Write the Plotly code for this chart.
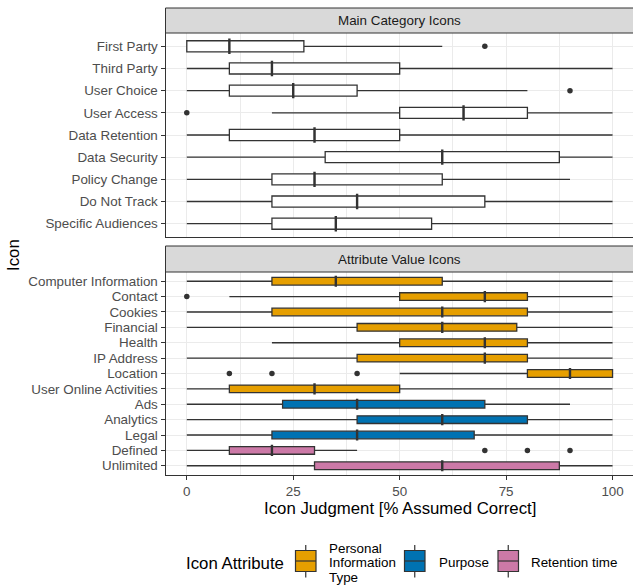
import plotly.graph_objects as go

# ---------------- data ----------------
main_icons = ["First Party", "Third Party", "User Choice", "User Access", "Data Retention",
              "Data Security", "Policy Change", "Do Not Track", "Specific Audiences"]
main_lower = [0, 0, 0, 20, 0, 0, 0, 0, 0]
main_q1 = [0, 10, 10, 50, 10, 32.5, 20, 20, 20]
main_median = [10, 20, 25, 65, 30, 60, 30, 40, 35]
main_q3 = [27.5, 50, 40, 80, 50, 87.5, 60, 70, 57.5]
main_upper = [60, 100, 80, 100, 100, 100, 90, 100, 100]
main_out_icon = ["First Party", "User Choice", "User Access"]
main_out_val = [70, 90, 0]

attr_icons = ["Computer Information", "Contact", "Cookies", "Financial", "Health", "IP Address",
              "Location", "User Online Activities", "Ads", "Analytics", "Legal", "Defined", "Unlimited"]
attr_group = ["Personal Information Type"] * 8 + ["Purpose"] * 3 + ["Retention time"] * 2
attr_lower = [0, 10, 0, 0, 20, 0, 50, 0, 0, 0, 0, 0, 0]
attr_q1 = [20, 50, 20, 40, 50, 40, 80, 10, 22.5, 40, 20, 10, 30]
attr_median = [35, 70, 60, 60, 70, 70, 90, 30, 40, 60, 40, 20, 60]
attr_q3 = [60, 80, 80, 77.5, 80, 80, 100, 50, 70, 80, 67.5, 30, 87.5]
attr_upper = [100, 100, 100, 100, 100, 100, 100, 100, 90, 100, 100, 40, 100]
attr_out_icon = ["Contact", "Location", "Location", "Location", "Defined", "Defined", "Defined"]
attr_out_val = [0, 10, 20, 40, 70, 80, 90]

groups = ["Personal Information Type", "Purpose", "Retention time"]
group_label_lines = [["Personal", "Information", "Type"], ["Purpose"], ["Retention time"]]
group_colors = {"Personal Information Type": "#E69F00", "Purpose": "#0072B2", "Retention time": "#CC79A7"}

x_ticks = [0, 25, 50, 75, 100]

# ---------------- figure ----------------
W, H = 633, 586
FONT = "Liberation Sans, Arial, sans-serif"
DARK = "#333333"
GRID = "#EBEBEB"
TICK_SIZE = 13.4
TITLE_SIZE = 16.8

def px_x(p):
    return p / W

def px_y(p):
    return 1 - p / H

fig = go.Figure()

box_line = dict(color=DARK, width=1.3)

# top panel boxes
fig.add_trace(go.Box(
    y=main_icons, q1=main_q1, median=main_median, q3=main_q3,
    lowerfence=main_lower, upperfence=main_upper, orientation="h",
    fillcolor="white", line=box_line, whiskerwidth=0, width=0.5,
    boxpoints=False, xaxis="x", yaxis="y", showlegend=False))
fig.add_trace(go.Scatter(
    x=main_median, y=main_icons, mode="markers", xaxis="x", yaxis="y",
    marker=dict(symbol="line-ns-open", size=11, color=DARK, line=dict(color=DARK, width=2.4)),
    showlegend=False, hoverinfo="skip"))
fig.add_trace(go.Scatter(
    x=main_out_val, y=main_out_icon, mode="markers", xaxis="x", yaxis="y",
    marker=dict(color=DARK, size=5.5), showlegend=False))

# bottom panel boxes by group
for g in groups:
    idx = [i for i, gg in enumerate(attr_group) if gg == g]
    fig.add_trace(go.Box(
        y=[attr_icons[i] for i in idx],
        q1=[attr_q1[i] for i in idx], median=[attr_median[i] for i in idx],
        q3=[attr_q3[i] for i in idx], lowerfence=[attr_lower[i] for i in idx],
        upperfence=[attr_upper[i] for i in idx], orientation="h",
        fillcolor=group_colors[g], line=box_line, whiskerwidth=0, width=0.5,
        boxpoints=False, xaxis="x2", yaxis="y2", showlegend=False, name=g))
fig.add_trace(go.Scatter(
    x=attr_median, y=attr_icons, mode="markers", xaxis="x2", yaxis="y2",
    marker=dict(symbol="line-ns-open", size=8, color=DARK, line=dict(color=DARK, width=2.4)),
    showlegend=False, hoverinfo="skip"))
fig.add_trace(go.Scatter(
    x=attr_out_val, y=attr_out_icon, mode="markers", xaxis="x2", yaxis="y2",
    marker=dict(color=DARK, size=5.5), showlegend=False))

# ---------------- layout ----------------
x_dom = [px_x(165.5), 1.0]
top_dom = [px_y(237), px_y(33)]
bot_dom = [px_y(475), px_y(272)]
x_range = [-5, 104.8]

common_x = dict(range=x_range, domain=x_dom, showgrid=True, gridcolor=GRID, gridwidth=1.1,
                zeroline=False, showline=True, linecolor=DARK, linewidth=1, mirror=True,
                tickvals=x_ticks,
                minor=dict(dtick=12.5, tick0=0, showgrid=True, gridcolor=GRID, gridwidth=0.6))
common_y = dict(type="category", showgrid=True, gridcolor=GRID, gridwidth=1.1, zeroline=False,
                showline=True, linecolor=DARK, linewidth=1, mirror=True,
                ticks="outside", ticklen=4, tickcolor=DARK, tickwidth=1, automargin=False,
                tickfont=dict(family=FONT, size=TICK_SIZE, color="#4D4D4D"))

fig.update_layout(
    width=W, height=H, margin=dict(l=0, r=0, t=0, b=0),
    paper_bgcolor="white", plot_bgcolor="white",
    font=dict(family=FONT),
    boxmode="overlay",
    xaxis=dict(common_x, anchor="y", showticklabels=False, ticks=""),
    yaxis=dict(common_y, domain=top_dom, anchor="x", categoryorder="array",
               categoryarray=main_icons, tickmode="array", tickvals=main_icons, ticktext=main_icons,
               range=[len(main_icons) - 1 + 0.6, -0.6]),
    xaxis2=dict(common_x, anchor="y2", ticks="outside", ticklen=4, tickcolor=DARK, automargin=False,
                tickfont=dict(family=FONT, size=TICK_SIZE, color="#4D4D4D")),
    yaxis2=dict(common_y, domain=bot_dom, anchor="x2", categoryorder="array",
                categoryarray=attr_icons, tickmode="array", tickvals=attr_icons, ticktext=attr_icons,
                range=[len(attr_icons) - 1 + 0.6, -0.6]),
)

shapes = []
annotations = []

def text(t, x, y, size, color="black", xanchor="center", angle=0):
    annotations.append(dict(text=t, xref="paper", yref="paper", x=x, y=y, xanchor=xanchor,
                            yanchor="middle", textangle=angle, showarrow=False,
                            font=dict(family=FONT, size=size, color=color)))

# strips
for (top, bottom, label) in [(8, 33, "Main Category Icons"), (246, 272, "Attribute Value Icons")]:
    shapes.append(dict(type="rect", xref="paper", yref="paper",
                       x0=x_dom[0], x1=1.01, y0=px_y(bottom), y1=px_y(top),
                       fillcolor="#D9D9D9", line=dict(color=DARK, width=1), layer="above"))
    text(label, px_x(399.5), px_y((top + bottom) / 2), TICK_SIZE, "#1A1A1A")

# axis titles
text("Icon Judgment [% Assumed Correct]", px_x(400), px_y(508), TITLE_SIZE)
text("Icon", px_x(14), px_y(255), TITLE_SIZE, angle=-90)

# legend
text("Icon Attribute", px_x(184), px_y(563), TITLE_SIZE, xanchor="left")
key_left = [295.5, 404.5, 498]
label_left = [327, 437, 529]
for g, lines, kl, ll in zip(groups, group_label_lines, key_left, label_left):
    kr = kl + 20.5
    kc = (kl + kr) / 2
    shapes.append(dict(type="line", xref="paper", yref="paper", x0=px_x(kc), x1=px_x(kc),
                       y0=px_y(545), y1=px_y(577.5), line=dict(color=DARK, width=1.2)))
    shapes.append(dict(type="rect", xref="paper", yref="paper", x0=px_x(kl), x1=px_x(kr),
                       y0=px_y(571.5), y1=px_y(550.5), fillcolor=group_colors[g],
                       line=dict(color=DARK, width=1.2)))
    shapes.append(dict(type="line", xref="paper", yref="paper", x0=px_x(kl), x1=px_x(kr),
                       y0=px_y(561), y1=px_y(561), line=dict(color=DARK, width=1.2)))
    n = len(lines)
    for j, ln in enumerate(lines):
        yc = 562.5 + (j - (n - 1) / 2) * 14.5
        text(ln, px_x(ll), px_y(yc), TICK_SIZE, xanchor="left")

fig.update_layout(shapes=shapes, annotations=annotations)

fig.write_html("out.html", config={"displayModeBar": False},
               post_script="document.body.style.margin='0px';")
